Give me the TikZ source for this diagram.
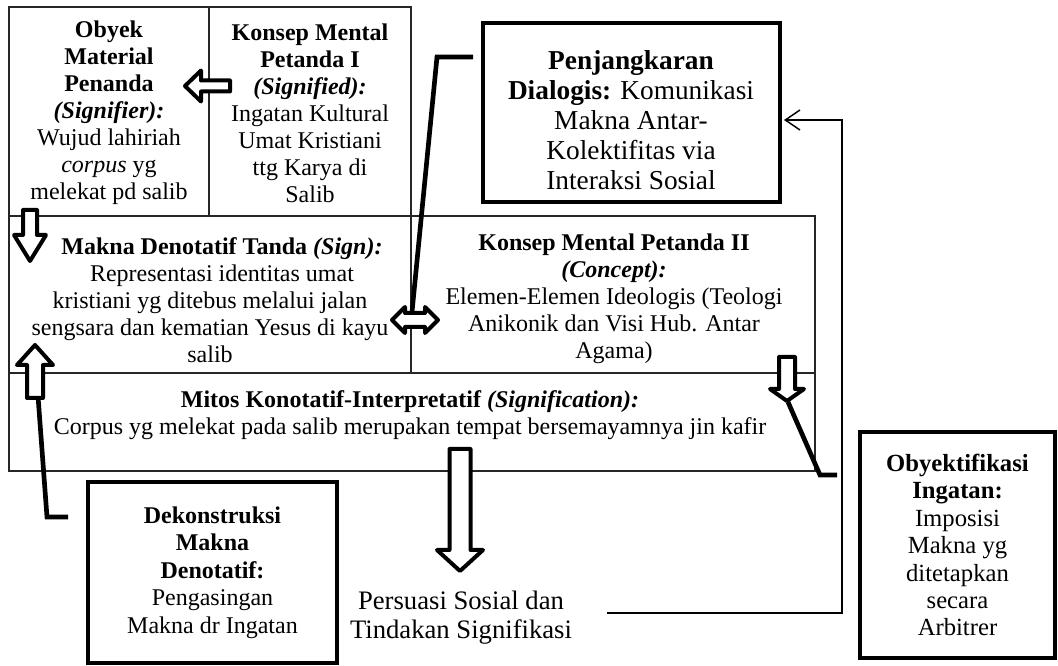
\documentclass[tikz,border=0pt]{standalone}
\usepackage{fontspec}
\setmainfont{Liberation Serif}
\usetikzlibrary{arrows.meta}
\begin{document}
\begin{tikzpicture}[x=0.75pt,y=-0.75pt,
  txt/.style={align=center, inner sep=0pt, font=\fontsize{18}{20.2}\selectfont},
  cellline/.style={line width=0.9pt, draw=black!85},
  thickbox/.style={draw, line width=3pt, inner sep=0pt, align=center, font=\fontsize{18}{20.6}\selectfont},
  conn/.style={line width=3.5pt, line join=miter},
  hollow/.style={draw, line width=3pt, fill=white, line join=round},
  fineline/.style={line width=1.1pt}]
\useasboundingbox (0,0) rectangle (1058,666);

% table cells
\draw[cellline] (9,7) rectangle (209,216);
\draw[cellline] (209,7) rectangle (411,216);
\draw[cellline] (9,216) rectangle (411,373);
\draw[cellline] (411,216) rectangle (815,373);
\draw[cellline] (9,373) rectangle (815,471);

% cell texts
\node[txt] (obyek) at (109,113) {\textbf{Obyek}\\\textbf{Material}\\\textbf{Penanda}\\\textbf{\textit{(Signifier):}}\\Wujud lahiriah\\\textit{corpus} yg\\melekat pd salib};
\node[txt] (konsep1) at (310,113) {\textbf{Konsep Mental}\\\textbf{Petanda I}\\\textbf{\textit{(Signified):}}\\Ingatan Kultural\\Umat Kristiani\\ttg Karya di\\Salib};
\node[txt] (makna) at (210,300) {\hspace*{18pt}\textbf{Makna Denotatif Tanda \textit{(Sign):}}\\\hspace*{18pt}Representasi identitas umat\\kristiani yg ditebus melalui jalan\\sengsara dan kematian Yesus di kayu\\salib};
\node[txt] (konsep2) at (614,299) {\textbf{Konsep Mental Petanda II}\\\textbf{\textit{(Concept):}}\\Elemen-Elemen Ideologis (Teologi\\Anikonik dan Visi Hub. Antar\\Agama)};
\node[txt] (mitos) at (410,415) {\textbf{Mitos Konotatif-Interpretatif \textit{(Signification):}}\\Corpus yg melekat pada salib merupakan tempat bersemayamnya jin kafir};

% thick boxes
\node[thickbox, minimum width=222.75pt, minimum height=134.25pt] (pbox) at (631.5,112.5) {};
\node[txt, font=\fontsize{20.5}{22.5}\selectfont] (ptext) at (631,120) {\textbf{Penjangkaran}\\\textbf{Dialogis:} Komunikasi\\Makna Antar-\\Kolektifitas via\\Interaksi Sosial};
\node[thickbox, minimum width=186.75pt, minimum height=135.75pt] (dekon) at (212.5,572.5) {\textbf{Dekonstruksi}\\\textbf{Makna}\\\textbf{Denotatif:}\\Pengasingan\\Makna dr Ingatan};
\node[thickbox, minimum width=146.25pt, minimum height=169.5pt, font=\fontsize{18.5}{20.6}\selectfont] (obyektif) at (957.5,545) {\textbf{Obyektifikasi}\\\textbf{Ingatan:}\\Imposisi\\Makna yg\\ditetapkan\\secara\\Arbitrer};
\node[txt, font=\fontsize{20}{21.8}\selectfont] (persuasi) at (461,618) {Persuasi Sosial dan\\Tindakan Signifikasi};

% connectors
\coordinate (pj1) at (473,57);
\coordinate (pj2) at (437,57);
\coordinate (pj3) at (412,312);
\draw[conn] (pj1) -- (pj2) -- (pj3);

\coordinate (dk1) at (38,396);
\coordinate (dk2) at (47,517);
\coordinate (dk3) at (68,517);
\draw[conn] (dk1) -- (dk2) -- (dk3);

\coordinate (ob1) at (788,402);
\coordinate (ob2) at (820,475);
\coordinate (ob3) at (837,475);
\draw[conn] (ob1) -- (ob2) -- (ob3);

\coordinate (ps1) at (607,613);
\coordinate (ps2) at (842,613);
\coordinate (ps3) at (842,120);
\draw[fineline, -{Straight Barb[length=11pt,width=15pt,line width=1.1pt]}] (ps1) -- (ps2) -- (ps3) -- ([xshift=1.5pt]pbox.east |- ps3);

% hollow block arrows
\draw[hollow] (23,210) -- (37,210) -- (37,235) -- (46,235) -- (30,261) -- (14,235) -- (23,235) -- cycle;
\draw[hollow] (230,80.5) -- (230,91.5) -- (201,91.5) -- (201,101.5) -- (185,86) -- (201,70.5) -- (201,80.5) -- cycle;
\draw[hollow] (27,398) -- (43,398) -- (43,365) -- (53,365) -- (35,345) -- (17,365) -- (27,365) -- cycle;
\draw[hollow] (392,320) -- (405,307) -- (405,313) -- (425,313) -- (425,307) -- (438,320) -- (425,333) -- (425,327) -- (405,327) -- (405,333) -- cycle;
\draw[hollow] (779,357) -- (795,357) -- (795,389) -- (804,389) -- (787,401) -- (770,389) -- (779,389) -- cycle;
\draw[hollow] (449.5,449) -- (470.5,449) -- (470.5,550) -- (483,550) -- (460,571) -- (437,550) -- (449.5,550) -- cycle;
\end{tikzpicture}
\end{document}
